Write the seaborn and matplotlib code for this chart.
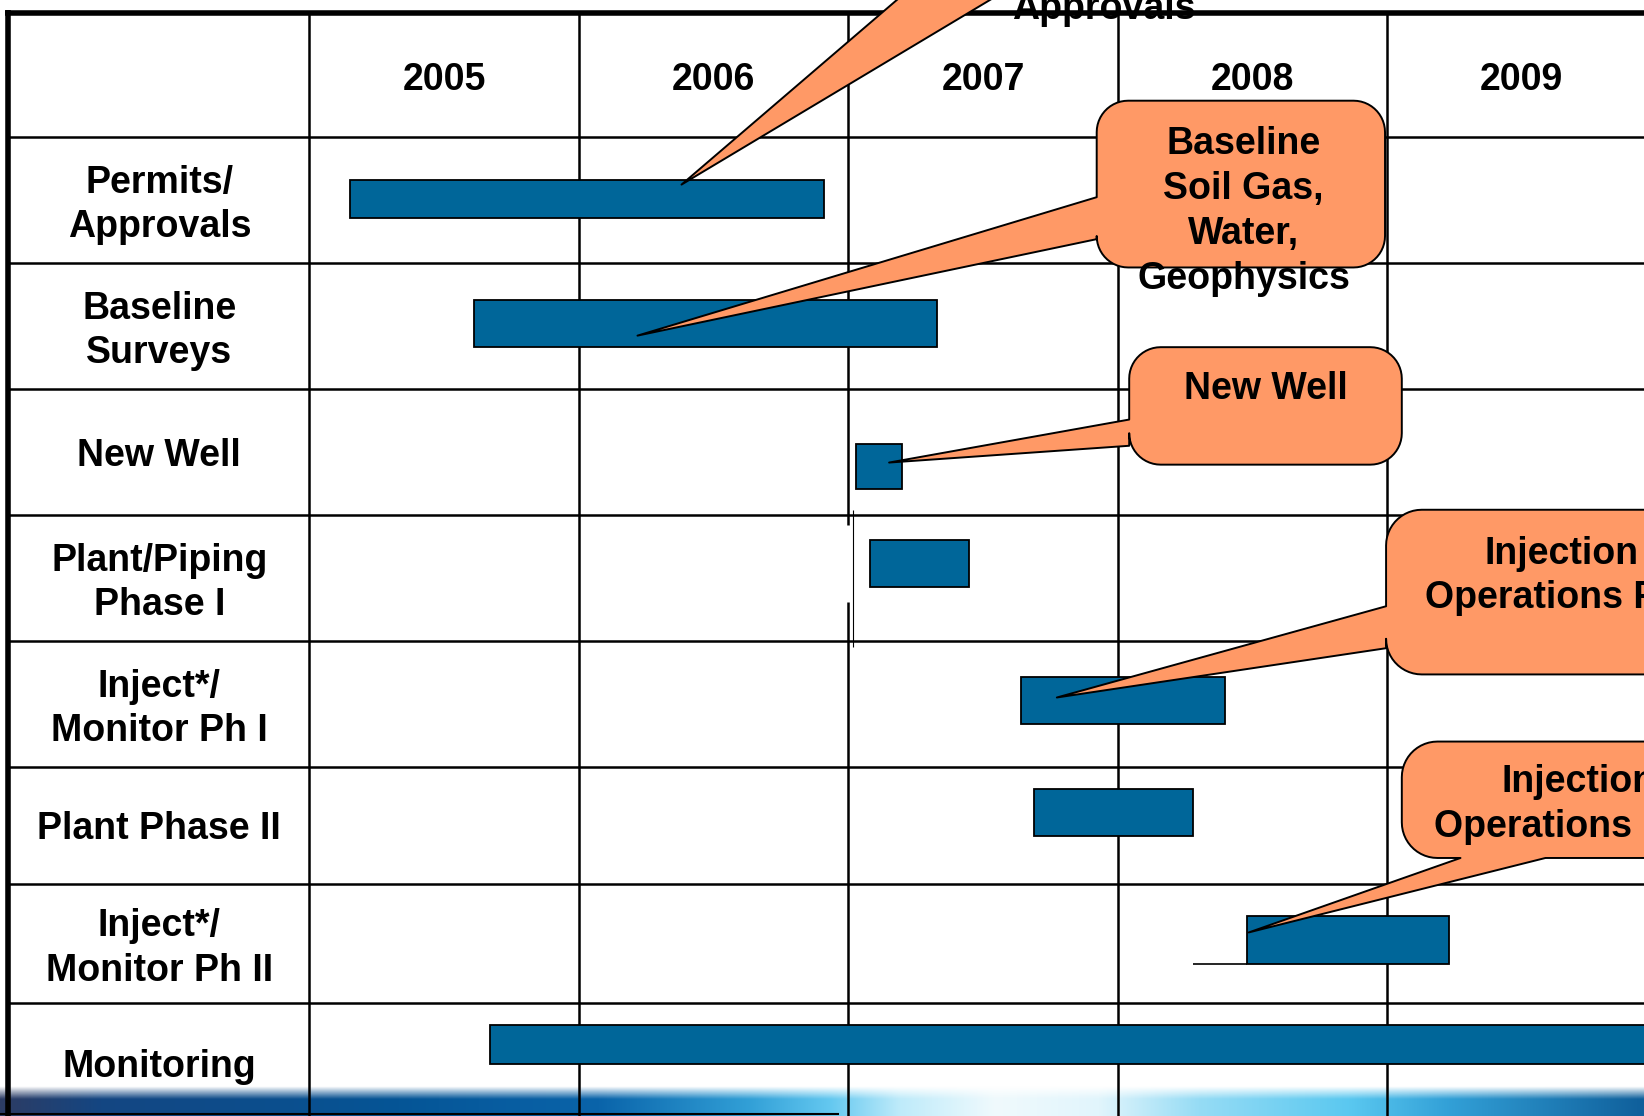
import numpy as np
import pandas as pd
import matplotlib
matplotlib.use("Agg")
import matplotlib.pyplot as plt
import seaborn as sns
from matplotlib.patches import Polygon

# ---------------- data ----------------
tasks = ["Permits/\nApprovals", "Baseline\nSurveys", "New Well", "Plant/Piping\nPhase I",
         "Inject*/\nMonitor Ph I", "Plant Phase II", "Inject*/\nMonitor Ph II", "Monitoring"]
start_year = [2005.15, 2005.61, 2007.03, 2007.08, 2007.64, 2007.69, 2008.48, 2005.67]
end_year = [2006.91, 2007.33, 2007.20, 2007.45, 2008.40, 2008.28, 2009.23, 2010.30]
years = [2005, 2006, 2007, 2008, 2009]

callout_permits = ["Permits/", "Approvals"]
callout_baseline = ["Baseline", "Soil Gas,", "Water,", "Geophysics"]
callout_newwell = ["New Well"]
callout_inj1 = ["Injection", "Operations Phase I"]
callout_inj2 = ["Injection", "Operations Phase II"]

# ---------------- layout (canvas units, y down) ----------------
W, H = 1568, 1064
X0_PX, YEAR_PX = 295, 257
def px2yr(px):
    return years[0] + (px - X0_PX) / YEAR_PX

header_top = 12
row_edges = [131, 251, 371, 491, 611, 731, 843, 956, 1070]
bar_shift = [-1, -2.5, 13.5, -13.5, -3.5, -12.5, -3.5, -17.5]
bar_h = [36, 45, 43, 45, 45, 45, 46, 37]
label_x = 152
line_gap = 42

BAR_C = "#006699"
CALL_C = "#FF9966"
FS = 27

sns.set_theme(style="white")
plt.rcParams['font.family'] = ['Liberation Sans', 'DejaVu Sans']
plt.rcParams['text.color'] = 'black'

df = pd.DataFrame(dict(task=tasks, start=start_year, end=end_year))
df["dur"] = df["end"] - df["start"]
row_c = [(row_edges[i] + row_edges[i + 1]) / 2 for i in range(len(tasks))]
df["y"] = [row_c[i] + bar_shift[i] for i in range(len(tasks))]

fig = plt.figure(figsize=(16.44, 11.16), dpi=100)
fig.patch.set_facecolor("white")
ax = fig.add_axes([0, 0, 1, 1])
ax.set_xlim(px2yr(0), px2yr(W))
ax.set_ylim(H, 0)
ax.axis("off")

# bottom gradient ribbon
stops_x = [0, 95, 380, 572, 715, 792, 858, 950, 1049, 1144, 1288, 1383, 1568]
stops_c = [(45, 60, 100), (20, 70, 130), (5, 85, 150), (10, 100, 170), (50, 160, 215),
           (100, 200, 240), (190, 235, 250), (240, 250, 253), (225, 245, 252),
           (150, 220, 245), (90, 200, 240), (50, 160, 215), (15, 95, 155)]
xs = np.linspace(0, W, 800)
rgb = np.stack([np.interp(xs, stops_x, [c[k] for c in stops_c]) for k in range(3)], axis=-1) / 255
ys = np.linspace(1036, 1064, 40)
alpha = np.clip((ys - 1036) / 12, 0, 1)
img = np.zeros((len(ys), len(xs), 4))
img[:, :, :3] = rgb[None, :, :]
img[:, :, 3] = alpha[:, None]
ax.imshow(img, extent=(px2yr(0), px2yr(W), 1064, 1036), origin="upper",
          aspect="auto", zorder=0.5, interpolation="bilinear")

# grid
LW = 1.8
for yr in years:
    if yr == 2007:
        ax.vlines(yr, header_top, 501, color="black", lw=LW, zorder=1)
        ax.vlines(yr, 574, H, color="black", lw=LW, zorder=1)
        ax.vlines(px2yr(813.5), 486, 617, color="black", lw=0.8, zorder=1)
    else:
        ax.vlines(yr, header_top, H, color="black", lw=LW, zorder=1)
ax.hlines(row_edges[:-1], px2yr(8), px2yr(W), color="black", lw=LW, zorder=1)
ax.hlines(header_top, px2yr(5), px2yr(W), color="black", lw=4, zorder=1.2)
ax.vlines(px2yr(8), header_top - 2, H, color="black", lw=4, zorder=1.2)
ax.hlines(1062.5, px2yr(0), px2yr(800), color="black", lw=1.5, zorder=1)
ax.hlines(919, px2yr(1138), px2yr(1189), color="black", lw=1.2, zorder=1)

# bars
ax.barh(df["y"], df["dur"], left=df["start"], height=bar_h, color=BAR_C,
        edgecolor="black", linewidth=1.3, zorder=3)

# year headers
for yr in years:
    ax.text(yr + 0.5, 72, str(yr), ha="center", va="center_baseline", color="black",
            fontsize=FS, fontweight="bold", zorder=5)

# overlay axes in canvas units
ov = fig.add_axes([0, 0, 1, 1])
ov.set_xlim(0, W)
ov.set_ylim(H, 0)
ov.axis("off")
ov.patch.set_alpha(0)

def put_lines(axx, lines, x, yc, ha="center", gap=line_gap):
    n = len(lines)
    for j, s in enumerate(lines):
        axx.text(x, yc + (j - (n - 1) / 2) * gap, s, ha=ha, va="center_baseline",
                 color="black", fontsize=FS, fontweight="bold", zorder=6, clip_on=False)

for i, t in enumerate(tasks):
    put_lines(ov, t.split("\n"), label_x, row_c[i] + (1 if "\n" in t else 0))

def callout_poly(x0, y0, x1, y1, r, side, a, b, tip, n=14):
    def arc(cx, cy, t0, t1):
        tt = np.radians(np.linspace(t0, t1, n))
        return list(zip(cx + r * np.cos(tt), cy + r * np.sin(tt)))
    pts = []
    pts += arc(x0 + r, y0 + r, 180, 270)
    pts += arc(x1 - r, y0 + r, 270, 360)
    pts += arc(x1 - r, y1 - r, 0, 90)
    if side == "bottom":
        pts += [(b, y1), tip, (a, y1)]
    pts += arc(x0 + r, y1 - r, 90, 180)
    if side == "left":
        pts += [(x0, b), tip, (x0, a)]
    return pts

callouts = [
    dict(box=(880, -200, 1230, -40), r=30, side="bottom", ab=(902, 1011), tip=(650, 176)),
    dict(box=(1046, 96, 1321, 255), r=30, side="left", ab=(188, 228), tip=(608, 320)),
    dict(box=(1077, 331, 1337, 443), r=30, side="left", ab=(400, 425), tip=(848, 441)),
    dict(box=(1322, 486, 1720, 643), r=34, side="left", ab=(578, 618), tip=(1008, 665)),
    dict(box=(1337, 707, 1720, 818), r=34, side="bottom", ab=(1393, 1474), tip=(1191, 889)),
]
for c in callouts:
    x0, y0, x1, y1 = c["box"]
    pts = callout_poly(x0, y0, x1, y1, c["r"], c["side"], c["ab"][0], c["ab"][1], c["tip"])
    ov.add_patch(Polygon(pts, closed=True, facecolor=CALL_C, edgecolor="black",
                         linewidth=1.4, joinstyle="round", zorder=4, clip_on=False))

put_lines(ov, callout_permits, 1053, 4.5 - line_gap / 2)
put_lines(ov, callout_baseline, 1186, 197.5, gap=43)
put_lines(ov, callout_newwell, 1207, 367)
for txt, x, y in [(callout_inj1[0], 1416, 524), (callout_inj1[1], 1359, 566),
                  (callout_inj2[0], 1432, 742), (callout_inj2[1], 1368, 785)]:
    ov.text(x, y, txt, ha="left", va="center_baseline", color="black",
            fontsize=FS, fontweight="bold", zorder=6)

fig.savefig("out.png", dpi=100, facecolor="white")
